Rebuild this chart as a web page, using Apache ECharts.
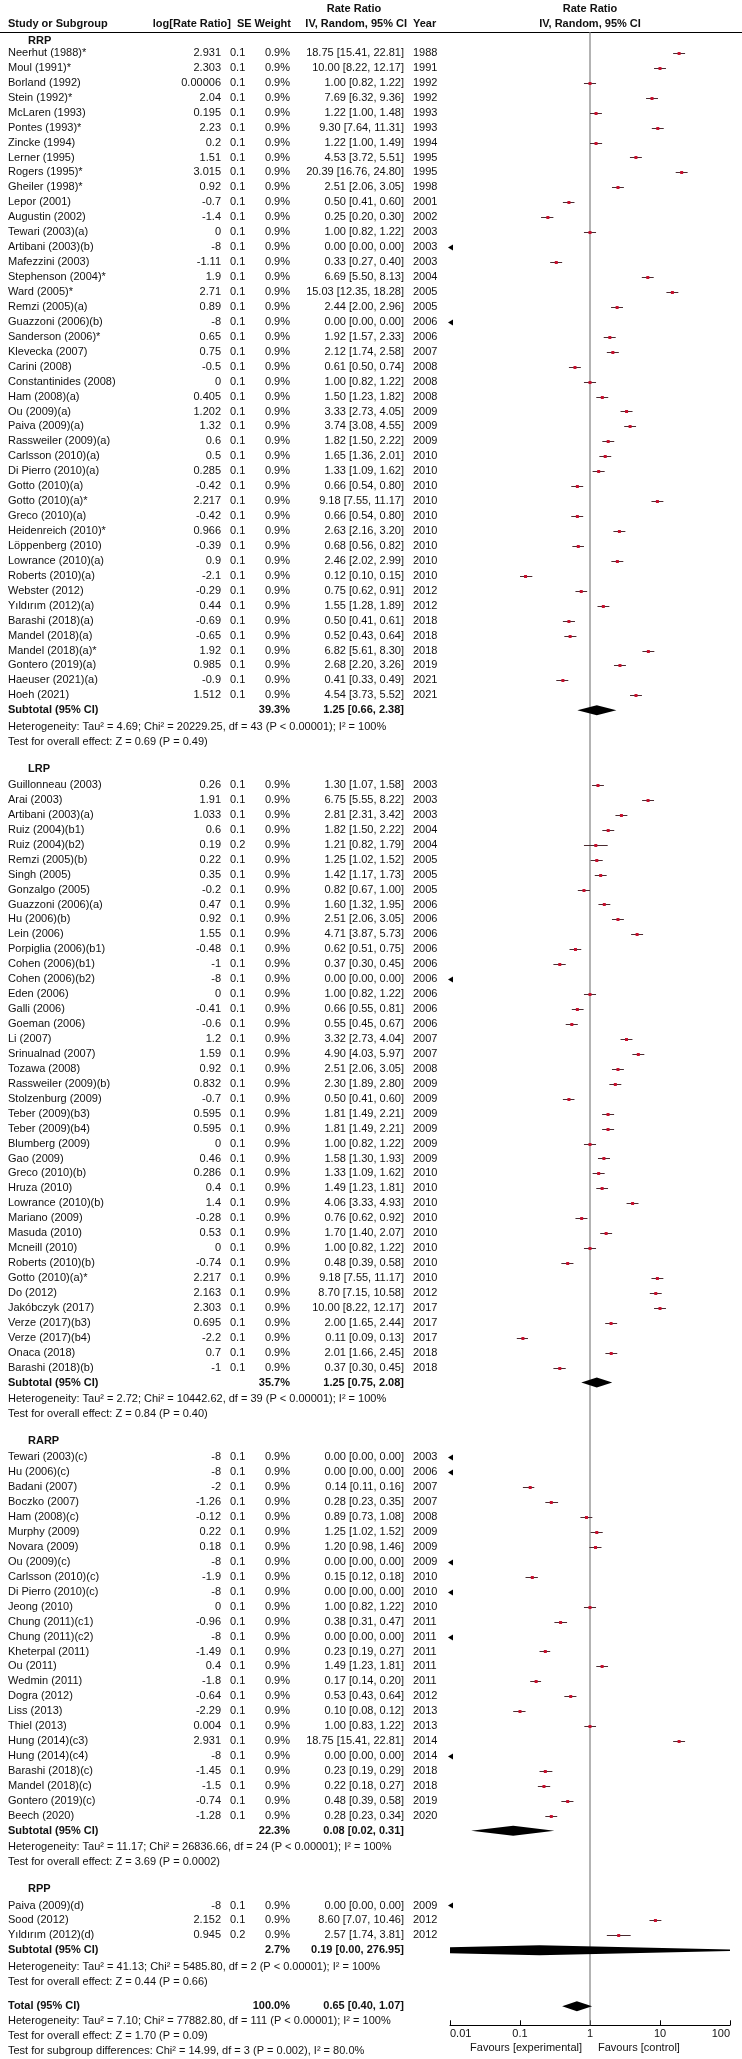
<!DOCTYPE html>
<html><head><meta charset="utf-8">
<script src="https://cdn.jsdelivr.net/npm/echarts/dist/echarts.min.js"></script>
<style>html,body{margin:0;padding:0;background:#fff}#c{width:742px;height:2059px}</style>
</head><body><div id="c"></div>
<script>
// ---------------- DATA ----------------
const rrpStudy = ["Neerhut (1988)*","Moul (1991)*","Borland (1992)","Stein (1992)*","McLaren (1993)","Pontes (1993)*","Zincke (1994)","Lerner (1995)","Rogers (1995)*","Gheiler (1998)*","Lepor (2001)","Augustin (2002)","Tewari (2003)(a)","Artibani (2003)(b)","Mafezzini (2003)","Stephenson (2004)*","Ward (2005)*","Remzi (2005)(a)","Guazzoni (2006)(b)","Sanderson (2006)*","Klevecka (2007)","Carini (2008)","Constantinides (2008)","Ham (2008)(a)","Ou (2009)(a)","Paiva (2009)(a)","Rassweiler (2009)(a)","Carlsson (2010)(a)","Di Pierro (2010)(a)","Gotto (2010)(a)","Gotto (2010)(a)*","Greco (2010)(a)","Heidenreich (2010)*","Löppenberg (2010)","Lowrance (2010)(a)","Roberts (2010)(a)","Webster (2012)","Yıldırım (2012)(a)","Barashi (2018)(a)","Mandel (2018)(a)","Mandel (2018)(a)*","Gontero (2019)(a)","Haeuser (2021)(a)","Hoeh (2021)"];
const rrpLogRR = [2.931,2.303,0.00006,2.04,0.195,2.23,0.2,1.51,3.015,0.92,-0.7,-1.4,0,-8,-1.11,1.9,2.71,0.89,-8,0.65,0.75,-0.5,0,0.405,1.202,1.32,0.6,0.5,0.285,-0.42,2.217,-0.42,0.966,-0.39,0.9,-2.1,-0.29,0.44,-0.69,-0.65,1.92,0.985,-0.9,1.512];
const rrpSE = [0.1,0.1,0.1,0.1,0.1,0.1,0.1,0.1,0.1,0.1,0.1,0.1,0.1,0.1,0.1,0.1,0.1,0.1,0.1,0.1,0.1,0.1,0.1,0.1,0.1,0.1,0.1,0.1,0.1,0.1,0.1,0.1,0.1,0.1,0.1,0.1,0.1,0.1,0.1,0.1,0.1,0.1,0.1,0.1];
const rrpWeight = [0.9,0.9,0.9,0.9,0.9,0.9,0.9,0.9,0.9,0.9,0.9,0.9,0.9,0.9,0.9,0.9,0.9,0.9,0.9,0.9,0.9,0.9,0.9,0.9,0.9,0.9,0.9,0.9,0.9,0.9,0.9,0.9,0.9,0.9,0.9,0.9,0.9,0.9,0.9,0.9,0.9,0.9,0.9,0.9];
const rrpRR = [18.75,10.00,1.00,7.69,1.22,9.30,1.22,4.53,20.39,2.51,0.50,0.25,1.00,0,0.33,6.69,15.03,2.44,0,1.92,2.12,0.61,1.00,1.50,3.33,3.74,1.82,1.65,1.33,0.66,9.18,0.66,2.63,0.68,2.46,0.12,0.75,1.55,0.50,0.52,6.82,2.68,0.41,4.54];
const rrpLower = [15.41,8.22,0.82,6.32,1.00,7.64,1.00,3.72,16.76,2.06,0.41,0.20,0.82,0,0.27,5.50,12.35,2.00,0,1.57,1.74,0.50,0.82,1.23,2.73,3.08,1.50,1.36,1.09,0.54,7.55,0.54,2.16,0.56,2.02,0.10,0.62,1.28,0.41,0.43,5.61,2.20,0.33,3.73];
const rrpUpper = [22.81,12.17,1.22,9.36,1.48,11.31,1.49,5.51,24.80,3.05,0.60,0.30,1.22,0,0.40,8.13,18.28,2.96,0,2.33,2.58,0.74,1.22,1.82,4.05,4.55,2.22,2.01,1.62,0.80,11.17,0.80,3.20,0.82,2.99,0.15,0.91,1.89,0.61,0.64,8.30,3.26,0.49,5.52];
const rrpYear = [1988,1991,1992,1992,1993,1993,1994,1995,1995,1998,2001,2002,2003,2003,2003,2004,2005,2005,2006,2006,2007,2008,2008,2008,2009,2009,2009,2010,2010,2010,2010,2010,2010,2010,2010,2010,2012,2012,2018,2018,2018,2019,2021,2021];

const lrpStudy = ["Guillonneau (2003)","Arai (2003)","Artibani (2003)(a)","Ruiz (2004)(b1)","Ruiz (2004)(b2)","Remzi (2005)(b)","Singh (2005)","Gonzalgo (2005)","Guazzoni (2006)(a)","Hu (2006)(b)","Lein (2006)","Porpiglia (2006)(b1)","Cohen (2006)(b1)","Cohen (2006)(b2)","Eden (2006)","Galli (2006)","Goeman (2006)","Li (2007)","Srinualnad (2007)","Tozawa (2008)","Rassweiler (2009)(b)","Stolzenburg (2009)","Teber (2009)(b3)","Teber (2009)(b4)","Blumberg (2009)","Gao (2009)","Greco (2010)(b)","Hruza (2010)","Lowrance (2010)(b)","Mariano (2009)","Masuda (2010)","Mcneill (2010)","Roberts (2010)(b)","Gotto (2010)(a)*","Do (2012)","Jakóbczyk (2017)","Verze (2017)(b3)","Verze (2017)(b4)","Onaca (2018)","Barashi (2018)(b)"];
const lrpLogRR = [0.26,1.91,1.033,0.6,0.19,0.22,0.35,-0.2,0.47,0.92,1.55,-0.48,-1,-8,0,-0.41,-0.6,1.2,1.59,0.92,0.832,-0.7,0.595,0.595,0,0.46,0.286,0.4,1.4,-0.28,0.53,0,-0.74,2.217,2.163,2.303,0.695,-2.2,0.7,-1];
const lrpSE = [0.1,0.1,0.1,0.1,0.2,0.1,0.1,0.1,0.1,0.1,0.1,0.1,0.1,0.1,0.1,0.1,0.1,0.1,0.1,0.1,0.1,0.1,0.1,0.1,0.1,0.1,0.1,0.1,0.1,0.1,0.1,0.1,0.1,0.1,0.1,0.1,0.1,0.1,0.1,0.1];
const lrpWeight = [0.9,0.9,0.9,0.9,0.9,0.9,0.9,0.9,0.9,0.9,0.9,0.9,0.9,0.9,0.9,0.9,0.9,0.9,0.9,0.9,0.9,0.9,0.9,0.9,0.9,0.9,0.9,0.9,0.9,0.9,0.9,0.9,0.9,0.9,0.9,0.9,0.9,0.9,0.9,0.9];
const lrpRR = [1.30,6.75,2.81,1.82,1.21,1.25,1.42,0.82,1.60,2.51,4.71,0.62,0.37,0,1.00,0.66,0.55,3.32,4.90,2.51,2.30,0.50,1.81,1.81,1.00,1.58,1.33,1.49,4.06,0.76,1.70,1.00,0.48,9.18,8.70,10.00,2.00,0.11,2.01,0.37];
const lrpLower = [1.07,5.55,2.31,1.50,0.82,1.02,1.17,0.67,1.32,2.06,3.87,0.51,0.30,0,0.82,0.55,0.45,2.73,4.03,2.06,1.89,0.41,1.49,1.49,0.82,1.30,1.09,1.23,3.33,0.62,1.40,0.82,0.39,7.55,7.15,8.22,1.65,0.09,1.66,0.30];
const lrpUpper = [1.58,8.22,3.42,2.22,1.79,1.52,1.73,1.00,1.95,3.05,5.73,0.75,0.45,0,1.22,0.81,0.67,4.04,5.97,3.05,2.80,0.60,2.21,2.21,1.22,1.93,1.62,1.81,4.93,0.92,2.07,1.22,0.58,11.17,10.58,12.17,2.44,0.13,2.45,0.45];
const lrpYear = [2003,2003,2003,2004,2004,2005,2005,2005,2006,2006,2006,2006,2006,2006,2006,2006,2006,2007,2007,2008,2009,2009,2009,2009,2009,2009,2010,2010,2010,2010,2010,2010,2010,2010,2012,2017,2017,2017,2018,2018];

const rarpStudy = ["Tewari (2003)(c)","Hu (2006)(c)","Badani (2007)","Boczko (2007)","Ham (2008)(c)","Murphy (2009)","Novara (2009)","Ou (2009)(c)","Carlsson (2010)(c)","Di Pierro (2010)(c)","Jeong (2010)","Chung (2011)(c1)","Chung (2011)(c2)","Kheterpal (2011)","Ou (2011)","Wedmin (2011)","Dogra (2012)","Liss (2013)","Thiel (2013)","Hung (2014)(c3)","Hung (2014)(c4)","Barashi (2018)(c)","Mandel (2018)(c)","Gontero (2019)(c)","Beech (2020)"];
const rarpLogRR = [-8,-8,-2,-1.26,-0.12,0.22,0.18,-8,-1.9,-8,0,-0.96,-8,-1.49,0.4,-1.8,-0.64,-2.29,0.004,2.931,-8,-1.45,-1.5,-0.74,-1.28];
const rarpSE = [0.1,0.1,0.1,0.1,0.1,0.1,0.1,0.1,0.1,0.1,0.1,0.1,0.1,0.1,0.1,0.1,0.1,0.1,0.1,0.1,0.1,0.1,0.1,0.1,0.1];
const rarpWeight = [0.9,0.9,0.9,0.9,0.9,0.9,0.9,0.9,0.9,0.9,0.9,0.9,0.9,0.9,0.9,0.9,0.9,0.9,0.9,0.9,0.9,0.9,0.9,0.9,0.9];
const rarpRR = [0,0,0.14,0.28,0.89,1.25,1.20,0,0.15,0,1.00,0.38,0,0.23,1.49,0.17,0.53,0.10,1.00,18.75,0,0.23,0.22,0.48,0.28];
const rarpLower = [0,0,0.11,0.23,0.73,1.02,0.98,0,0.12,0,0.82,0.31,0,0.19,1.23,0.14,0.43,0.08,0.83,15.41,0,0.19,0.18,0.39,0.23];
const rarpUpper = [0,0,0.16,0.35,1.08,1.52,1.46,0,0.18,0,1.22,0.47,0,0.27,1.81,0.20,0.64,0.12,1.22,22.81,0,0.29,0.27,0.58,0.34];
const rarpYear = [2003,2006,2007,2007,2008,2009,2009,2009,2010,2010,2010,2011,2011,2011,2011,2011,2012,2013,2013,2014,2014,2018,2018,2019,2020];

const rppStudy = ["Paiva (2009)(d)","Sood (2012)","Yıldırım (2012)(d)"];
const rppLogRR = [-8,2.152,0.945];
const rppSE = [0.1,0.1,0.2];
const rppWeight = [0.9,0.9,0.9];
const rppRR = [0,8.60,2.57];
const rppLower = [0,7.07,1.74];
const rppUpper = [0,10.46,3.81];
const rppYear = [2009,2012,2012];

const groupLabels = ["RRP","LRP","RARP","RPP"];
const groupWeight = [39.3,35.7,22.3,2.7];
const groupRR = [1.25,1.25,0.08,0.19];
const groupLower = [0.66,0.75,0.02,0.00];
const groupUpper = [2.38,2.08,0.31,276.95];
const groupTau2 = ["4.69","2.72","11.17","41.13"];
const groupChi2 = ["20229.25","10442.62","26836.66","5485.80"];
const groupDf = [43,39,24,2];
const groupHetP = ["< 0.00001","< 0.00001","< 0.00001","< 0.00001"];
const groupI2 = ["100%","100%","100%","100%"];
const groupZ = ["0.69","0.84","3.69","0.44"];
const groupZP = ["0.49","0.40","0.0002","0.66"];

const totalWeight = 100.0, totalRR = 0.65, totalLower = 0.40, totalUpper = 1.07;
const totalTau2 = "7.10", totalChi2 = "77882.80", totalDf = 111, totalHetP = "< 0.00001", totalI2 = "100%";
const totalZ = "1.70", totalZP = "0.09";
const subgroupChi2 = "14.99", subgroupDf = 3, subgroupP = "0.002", subgroupI2 = "80.0%";

const xTicks = [0.01,0.1,1,10,100];
const xTickLabels = ["0.01","0.1","1","10","100"];

// ---------------- LAYOUT ----------------
const FONT = '"Liberation Sans", Arial, Helvetica, sans-serif';
const FS = 11;
const W = 742, H = 2059;
const ROW = 14.94;
const GRID_TOP = 32, GRID_LEFT = 450, GRID_RIGHT = 12;
const Y_MIN = -1.4;
const X_NAME = 8, X_GROUP = 28, X_LOG = 221, X_SE = 230, X_W = 290, X_CI = 404, X_YEAR = 413;
const TXT = '#111';

const groups = [
  {label:groupLabels[0], study:rrpStudy, logrr:rrpLogRR, se:rrpSE, w:rrpWeight, rr:rrpRR, lo:rrpLower, hi:rrpUpper, yr:rrpYear},
  {label:groupLabels[1], study:lrpStudy, logrr:lrpLogRR, se:lrpSE, w:lrpWeight, rr:lrpRR, lo:lrpLower, hi:lrpUpper, yr:lrpYear},
  {label:groupLabels[2], study:rarpStudy, logrr:rarpLogRR, se:rarpSE, w:rarpWeight, rr:rarpRR, lo:rarpLower, hi:rarpUpper, yr:rarpYear},
  {label:groupLabels[3], study:rppStudy, logrr:rppLogRR, se:rppSE, w:rppWeight, rr:rppRR, lo:rppLower, hi:rppUpper, yr:rppYear}
];
const f2 = v => v.toFixed(2);
const ciText = (r,l,h) => f2(r) + ' [' + f2(l) + ', ' + f2(h) + ']';

const tableRows = [];
const studyMarks = [];
const diamondMarks = [];
tableRows.push({kind:'head1', pos:-2.94});
tableRows.push({kind:'head2', pos:-1.94});
let p = 0;
groups.forEach((g, gi) => {
  tableRows.push({kind:'group', pos: p - (gi === 0 ? 0.82 : 1.1), text:g.label});
  g.study.forEach((s, i) => {
    tableRows.push({kind:'study', pos:p+i, g, i});
    studyMarks.push({pos:p+i, rr:g.rr[i], lo:g.lo[i], hi:g.hi[i]});
  });
  const n = g.study.length;
  tableRows.push({kind:'sum', pos:p+n, label:'Subtotal (95% CI)', w:groupWeight[gi], ci:ciText(groupRR[gi],groupLower[gi],groupUpper[gi])});
  diamondMarks.push({pos:p+n, rr:groupRR[gi], lo:groupLower[gi], hi:groupUpper[gi]});
  tableRows.push({kind:'note', pos:p+n+1.1, text:'Heterogeneity: Tau\u00b2 = ' + groupTau2[gi] + '; Chi\u00b2 = ' + groupChi2[gi] + ', df = ' + groupDf[gi] + ' (P ' + groupHetP[gi] + '); I\u00b2 = ' + groupI2[gi]});
  tableRows.push({kind:'note', pos:p+n+2.1, text:'Test for overall effect: Z = ' + groupZ[gi] + ' (P = ' + groupZP[gi] + ')'});
  p += n + (gi === groups.length - 1 ? 3.75 : 5);
});
const totalPos = p;
tableRows.push({kind:'sum', pos:totalPos, label:'Total (95% CI)', w:totalWeight, ci:ciText(totalRR,totalLower,totalUpper)});
diamondMarks.push({pos:totalPos, rr:totalRR, lo:totalLower, hi:totalUpper});
tableRows.push({kind:'note', pos:totalPos+1, text:'Heterogeneity: Tau\u00b2 = ' + totalTau2 + '; Chi\u00b2 = ' + totalChi2 + ', df = ' + totalDf + ' (P ' + totalHetP + '); I\u00b2 = ' + totalI2});
tableRows.push({kind:'note', pos:totalPos+2, text:'Test for overall effect: Z = ' + totalZ + ' (P = ' + totalZP + ')'});
tableRows.push({kind:'note', pos:totalPos+3, text:'Test for subgroup differences: Chi\u00b2 = ' + subgroupChi2 + ', df = ' + subgroupDf + ' (P = ' + subgroupP + '), I\u00b2 = ' + subgroupI2});
tableRows.push({kind:'favours', pos:totalPos+2.8});
const Y_MAX = totalPos + 1.27;
const gridH = (Y_MAX - Y_MIN) * ROW;
const GRID_BOTTOM = H - GRID_TOP - gridH;

// ---------------- RENDER ----------------
function txt(kids, text, x, y, align, bold, size) {
  const font = (bold ? 'bold ' : '') + (size || FS) + 'px ' + FONT;
  kids.push({type:'text', x:x, y:y, style:{text:text, fill:TXT, font:font, textAlign:align||'left', textVerticalAlign:'middle', align:align||'left', verticalAlign:'middle'}});
}
function renderTable(params, api) {
  const row = tableRows[params.dataIndex];
  const pt = api.coord([1, row.pos]);
  const y = pt[1], xOne = pt[0];
  const k = [];
  switch (row.kind) {
    case 'head1':
      txt(k, 'Rate Ratio', 354, y, 'center', true);
      txt(k, 'Rate Ratio', xOne, y, 'center', true);
      break;
    case 'head2':
      txt(k, 'Study or Subgroup', X_NAME, y, 'left', true);
      txt(k, 'log[Rate Ratio]', 231, y, 'right', true);
      txt(k, 'SE', 237, y, 'left', true);
      txt(k, 'Weight', X_W + 1, y, 'right', true);
      txt(k, 'IV, Random, 95% CI', X_CI + 3, y, 'right', true);
      txt(k, 'Year', X_YEAR, y, 'left', true);
      txt(k, 'IV, Random, 95% CI', xOne, y, 'center', true);
      break;
    case 'group':
      txt(k, row.text, X_GROUP, y, 'left', true);
      break;
    case 'study': {
      const g = row.g, i = row.i;
      txt(k, g.study[i], X_NAME, y, 'left');
      txt(k, String(g.logrr[i]), X_LOG, y, 'right');
      txt(k, String(g.se[i]), X_SE, y, 'left');
      txt(k, g.w[i].toFixed(1) + '%', X_W, y, 'right');
      txt(k, ciText(g.rr[i], g.lo[i], g.hi[i]), X_CI, y, 'right');
      txt(k, String(g.yr[i]), X_YEAR, y, 'left');
      break;
    }
    case 'sum':
      txt(k, row.label, X_NAME, y, 'left', true);
      txt(k, row.w.toFixed(1) + '%', X_W, y, 'right', true);
      txt(k, row.ci, X_CI, y, 'right', true);
      break;
    case 'note':
      txt(k, row.text, X_NAME, y, 'left');
      break;
    case 'favours':
      txt(k, 'Favours [experimental]', xOne - 8, y, 'right');
      txt(k, 'Favours [control]', xOne + 8, y, 'left');
      break;
  }
  return {type:'group', children:k};
}
function renderStudy(params, api) {
  const m = studyMarks[params.dataIndex];
  const y = Math.round(api.coord([1, m.pos])[1]) + 0.5;
  if (!(m.rr > 0)) {
    const x0 = api.coord([xTicks[0], m.pos])[0];
    return {type:'polygon', shape:{points:[[x0 - 2, y], [x0 + 3, y - 3], [x0 + 3, y + 3]]}, style:{fill:'#000'}};
  }
  const xl = api.coord([m.lo, m.pos])[0];
  const xh = api.coord([m.hi, m.pos])[0];
  const xc = api.coord([m.rr, m.pos])[0];
  return {type:'group', children:[
    {type:'line', shape:{x1:xl, y1:y, x2:xh, y2:y}, style:{stroke:'#4a2a30', lineWidth:1}},
    {type:'rect', shape:{x:xc - 1.5, y:y - 1.5, width:3, height:3}, style:{fill:'#c8102e'}}
  ]};
}
function renderDiamond(params, api) {
  const d = diamondMarks[params.dataIndex];
  // lower bound shown as 0.00: draw the diamond symmetric on the log scale
  const lo = d.lo > 0 ? d.lo : d.rr * d.rr / d.hi;
  const y = api.coord([1, d.pos])[1];
  const xl = api.coord([lo, d.pos])[0];
  const xh = api.coord([d.hi, d.pos])[0];
  const xc = api.coord([d.rr, d.pos])[0];
  return {type:'polygon', shape:{points:[[xl, y], [xc, y - 5], [xh, y], [xc, y + 5]]}, style:{fill:'#000'}};
}

const chart = echarts.init(document.getElementById('c'), null, {renderer:'canvas'});
chart.setOption({
  animation:false,
  backgroundColor:'#fff',
  grid:{left:GRID_LEFT, right:GRID_RIGHT, top:GRID_TOP, bottom:GRID_BOTTOM, containLabel:false},
  xAxis:{type:'log', logBase:10, min:xTicks[0], max:xTicks[xTicks.length-1], position:'bottom',
    axisLine:{show:true, onZero:false, lineStyle:{color:'#000', width:1}},
    axisTick:{show:true, inside:true, length:5, lineStyle:{color:'#000'}},
    splitLine:{show:false},
    axisLabel:{margin:3, color:TXT, fontSize:FS, fontFamily:FONT, alignMinLabel:'left', alignMaxLabel:'right',
      formatter:v => xTickLabels[Math.round(Math.log10(v)) + 2]}
  },
  yAxis:{type:'value', inverse:true, min:Y_MIN, max:Y_MAX, show:false},
  graphic:[{type:'line', shape:{x1:0, y1:GRID_TOP + 0.5, x2:W, y2:GRID_TOP + 0.5}, style:{stroke:'#000', lineWidth:1}}],
  series:[
    {type:'line', name:'ref', data:[[1, Y_MIN], [1, Y_MAX]], symbol:'none', silent:true, z:1,
      lineStyle:{color:'#808080', width:1.2}},
    {type:'custom', name:'table', renderItem:renderTable, clip:false, silent:true, z:3,
      data:tableRows.map(r => [1, r.pos])},
    {type:'custom', name:'studies', renderItem:renderStudy, clip:false, silent:true, z:4,
      data:studyMarks.map(m => [m.rr > 0 ? m.rr : xTicks[0], m.pos])},
    {type:'custom', name:'diamonds', renderItem:renderDiamond, clip:true, silent:true, z:5,
      data:diamondMarks.map(d => [d.rr, d.pos])}
  ]
});
</script>
</body></html>
